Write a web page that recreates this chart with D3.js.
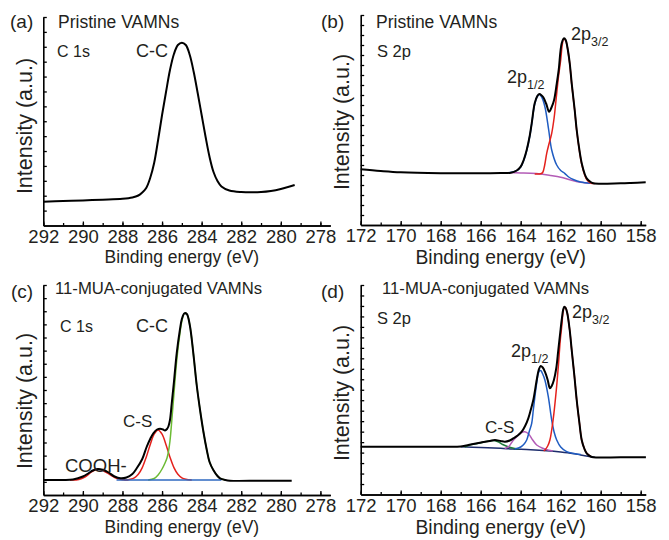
<!DOCTYPE html>
<html lang="en">
<head>
  <meta charset="utf-8">
  <title>XPS spectra of VAMNs</title>
  <script src="https://d3js.org/d3.v7.min.js"></script>
  <style>
    body { margin: 0; background: #fff; }
    text { font-family: "Liberation Sans", Arial, sans-serif; fill: #231f20; }
  </style>
</head>
<body>
<script>
// tick labels (binding energy, eV)
const c1sTicks = [292, 290, 288, 286, 284, 282, 280, 278];
const s2pTicks = [172, 170, 168, 166, 164, 162, 160, 158];

// (a) pristine C 1s  [eV, intensity a.u.]
const aTotal = [[292.0,2.38],[291.0,2.44],[290.0,2.51],[289.0,2.58],[288.0,2.67],[287.5,2.80],[287.2,3.00],[287.0,3.30],[286.8,3.75],[286.6,4.75],[286.4,6.25],[286.2,8.55],[286.0,11.05],[285.8,13.35],[285.6,15.55],[285.4,17.15],[285.2,18.05],[285.0,18.28],[284.8,18.05],[284.6,17.05],[284.4,15.35],[284.2,13.25],[284.0,11.05],[283.8,8.85],[283.6,6.85],[283.4,5.35],[283.2,4.45],[283.0,3.90],[282.6,3.50],[282.0,3.35],[281.0,3.35],[280.5,3.45],[280.0,3.65],[279.3,4.05]];

// (b) pristine S 2p
const bTotal = [[172.0,5.57],[171.0,5.40],[170.0,5.27],[168.0,5.18],[166.0,5.17],[165.0,5.20],[164.5,5.23],[164.2,5.45],[164.0,5.83],[163.85,6.50],[163.7,7.50],[163.55,8.90],[163.45,10.17],[163.3,12.17],[163.17,12.90],[163.07,13.10],[162.95,12.95],[162.87,12.77],[162.72,12.10],[162.58,11.33],[162.45,11.80],[162.33,12.50],[162.2,14.10],[162.1,15.50],[161.95,18.17],[161.83,18.67],[161.75,18.50],[161.67,17.83],[161.55,16.20],[161.45,14.17],[161.3,11.50],[161.2,9.50],[161.05,7.30],[160.95,6.17],[160.8,5.10],[160.7,4.67],[160.5,4.30],[160.37,4.17],[159.0,4.17],[158.5,4.20],[157.75,4.27]];
const bP32 = [[163.3,5.10],[163.0,5.12],[162.9,5.25],[162.8,6.00],[162.7,7.17],[162.6,8.00],[162.45,9.17],[162.33,10.70],[162.2,13.17],[162.1,15.00],[162.0,16.50],[161.93,17.90],[161.85,18.60],[161.75,18.45],[161.67,17.80],[161.55,16.15],[161.45,14.10],[161.3,11.45],[161.2,9.45],[161.05,7.25],[160.95,6.10],[160.8,5.00],[160.7,4.55],[160.5,4.20],[160.3,4.15]];
const bP12 = [[164.6,5.23],[164.2,5.43],[164.0,5.80],[163.85,6.45],[163.7,7.45],[163.55,8.85],[163.45,10.10],[163.3,12.10],[163.17,12.85],[163.07,13.05],[162.95,12.80],[162.79,11.83],[162.6,9.50],[162.45,7.50],[162.2,6.00],[162.0,5.45],[161.8,5.17],[161.6,4.80],[161.37,4.55],[161.0,4.30],[160.5,4.17]];
const bBackground = [[164.6,5.23],[164.0,5.20],[163.5,5.17],[163.0,5.10],[162.5,4.95],[162.0,4.77],[161.5,4.50],[161.0,4.27],[160.5,4.17]];

// (c) 11-MUA C 1s
const cTotal = [[292.0,1.50],[291.0,1.50],[290.5,1.55],[290.0,1.85],[289.7,2.20],[289.5,2.45],[289.25,2.60],[289.0,2.52],[288.7,2.25],[288.4,1.85],[288.1,1.67],[287.8,1.75],[287.5,2.10],[287.28,2.67],[287.0,3.60],[286.78,4.80],[286.6,5.60],[286.44,6.17],[286.25,6.55],[286.1,6.63],[285.95,6.55],[285.85,6.45],[285.75,6.60],[285.68,6.85],[285.6,7.50],[285.51,9.17],[285.4,11.30],[285.26,14.17],[285.1,16.50],[285.0,17.60],[284.87,18.17],[284.75,18.10],[284.6,17.00],[284.42,14.17],[284.25,11.00],[284.08,8.50],[283.9,6.20],[283.74,4.50],[283.6,3.30],[283.41,2.50],[283.2,1.90],[283.07,1.67],[282.8,1.50],[282.57,1.43],[281.0,1.43],[279.45,1.43]];
const cCOOH = [[290.65,1.50],[290.2,1.55],[289.9,1.80],[289.6,2.25],[289.4,2.50],[289.25,2.57],[289.1,2.54],[288.9,2.35],[288.6,2.00],[288.3,1.67],[288.0,1.53],[287.7,1.50]];
const cCS = [[287.9,1.50],[287.6,1.57],[287.4,1.72],[287.2,2.07],[287.0,2.74],[286.8,3.78],[286.6,5.03],[286.4,6.08],[286.2,6.50],[286.0,6.08],[285.8,5.03],[285.6,3.78],[285.4,2.74],[285.2,2.07],[285.0,1.72],[284.8,1.57],[284.5,1.50]];
const cCC = [[286.7,1.50],[286.4,1.65],[286.2,2.00],[286.0,2.60],[285.85,3.20],[285.75,3.70],[285.68,4.30],[285.6,5.40],[285.51,7.40],[285.4,10.10],[285.26,13.44],[285.1,16.14],[285.0,17.38],[284.87,18.17],[284.75,18.10],[284.6,17.00],[284.42,14.17],[284.25,11.00],[284.08,8.50],[283.9,6.20],[283.74,4.50],[283.6,3.30],[283.41,2.50],[283.2,1.90],[283.07,1.67],[282.8,1.50]];
const cBackground = [[288.3,1.50],[283.0,1.50]];

// (d) 11-MUA S 2p
const dTotal = [[172.0,4.78],[170.0,4.78],[168.0,4.78],[167.0,4.80],[166.5,5.00],[166.04,5.18],[165.54,5.35],[165.29,5.45],[165.0,5.35],[164.79,5.28],[164.55,5.40],[164.37,5.62],[164.15,5.90],[163.95,6.28],[163.78,6.85],[163.62,7.62],[163.5,8.45],[163.37,9.45],[163.2,11.45],[163.1,12.45],[163.0,12.85],[162.9,12.70],[162.79,12.28],[162.65,11.45],[162.54,10.62],[162.45,10.85],[162.34,11.45],[162.22,12.65],[162.12,14.45],[162.02,16.25],[161.95,17.45],[161.88,18.45],[161.82,18.78],[161.75,18.65],[161.67,18.12],[161.55,16.45],[161.45,14.45],[161.32,11.95],[161.2,9.45],[161.07,7.25],[160.95,5.45],[160.82,4.60],[160.7,4.12],[160.5,3.80],[160.37,3.72],[159.0,3.72],[157.74,3.72]];
const dP32 = [[162.85,4.35],[162.79,4.45],[162.65,4.85],[162.54,5.45],[162.45,6.45],[162.34,8.12],[162.22,10.45],[162.12,12.78],[162.02,15.45],[161.95,16.78],[161.88,18.25],[161.82,18.75],[161.75,18.65],[161.67,18.12],[161.55,16.45],[161.45,14.45],[161.32,11.95],[161.2,9.45],[161.07,7.25],[160.95,5.45],[160.82,4.60],[160.7,4.12],[160.5,3.80]];
const dP12 = [[164.3,4.55],[164.0,4.75],[163.85,5.00],[163.7,5.45],[163.58,6.25],[163.45,7.12],[163.37,8.45],[163.29,9.78],[163.2,11.15],[163.12,12.12],[163.05,12.40],[162.99,12.38],[162.9,12.05],[162.79,11.45],[162.62,9.78],[162.45,7.45],[162.33,6.25],[162.2,5.45],[162.0,4.75],[161.7,4.28],[161.35,4.10],[161.0,4.00]];
const dCS1 = [[164.8,4.60],[164.6,4.78],[164.4,5.35],[164.2,5.78],[164.0,6.15],[163.8,6.28],[163.6,6.05],[163.4,5.45],[163.2,4.95],[162.9,4.62],[162.6,4.42],[162.4,4.35]];
const dCS2 = [[166.8,4.75],[166.5,4.97],[166.04,5.15],[165.8,5.27],[165.54,5.35],[165.35,5.40],[165.1,5.25],[164.9,5.00],[164.6,4.75],[164.3,4.60],[164.1,4.55]];
const dBackground = [[167.0,4.78],[166.0,4.70],[165.0,4.62],[164.4,4.55],[163.5,4.48],[162.7,4.38],[162.0,4.25],[161.4,4.10],[161.0,3.95],[160.5,3.78],[160.3,3.72]];

const svg = d3.select("body").append("svg")
  .attr("width", 669)
  .attr("height", 540);

function drawPanel(p) {
  const g = svg.append("g");
  const x = d3.scaleLinear().domain(p.xDomain).range([p.left, p.right]);
  const y = d3.scaleLinear().domain([0, p.yMax]).range([p.bottom, p.top]);

  // x axis: minor every 1 eV, labelled every 2 eV, ticks pointing inward
  const minor = d3.range(p.ticks[0], p.ticks[p.ticks.length - 1] - 0.5, -1);
  g.append("g")
    .attr("transform", "translate(0," + p.bottom + ")")
    .call(d3.axisBottom(x).tickValues(minor).tickSize(-2.5).tickSizeOuter(0).tickFormat(""));
  g.append("g")
    .attr("transform", "translate(0," + p.bottom + ")")
    .call(d3.axisBottom(x).tickValues(p.ticks).tickSize(-4).tickSizeOuter(0).tickPadding(p.tickPad).tickFormat(d3.format("d")))
    .call(a => a.selectAll("text").style("font-size", p.tickFont + "px").attr("fill", "#231f20"));

  // y axis, unlabelled
  const yt = d3.range(1, p.n + 1).map(i => i * p.yMax / p.n);
  g.append("g")
    .attr("transform", "translate(" + p.left + ",0)")
    .call(d3.axisLeft(y).tickValues(yt).tickSize(-3.5).tickSizeOuter(0).tickFormat(""));

  g.selectAll(".domain").attr("stroke", "#000").attr("stroke-width", 1.6);
  g.selectAll(".tick line").attr("stroke", "#000").attr("stroke-width", 1.3);

  const line = d3.line()
    .x(d => x(d[0]))
    .y(d => y(d[1]))
    .curve(d3.curveCatmullRom.alpha(0.5));

  p.series.forEach(s => {
    g.append("path")
      .datum(s.data)
      .attr("fill", "none")
      .attr("stroke", s.color)
      .attr("stroke-width", s.width)
      .attr("stroke-linejoin", "round")
      .attr("d", line);
  });

  // axis titles
  g.append("text")
    .attr("x", (p.left + x(p.ticks[p.ticks.length - 1])) / 2)
    .attr("y", p.xTitleY)
    .attr("text-anchor", "middle")
    .style("font-size", p.xTitleFont + "px")
    .text("Binding energy (eV)");
  g.append("text")
    .attr("transform", "translate(" + p.yTitleX + "," + p.yTitleY + ") rotate(-90)")
    .attr("text-anchor", "middle")
    .style("font-size", p.yTitleFont + "px")
    .text("Intensity (a.u.)");

  // annotations
  p.labels.forEach(l => {
    const t = g.append("text").attr("x", l.x).attr("y", l.y).style("font-size", l.size + "px").text(l.text);
    if (l.sub) t.append("tspan").attr("dy", 6).style("font-size", "12.5px").text(l.sub);
  });
}

const BLACK = "#000", RED = "#e4211c", BLUE = "#1f5cc2", PURPLE = "#b35cb6";

drawPanel({
  xDomain: [292, 277.5], left: 43.3, right: 330.3, bottom: 225.5, top: 17, yMax: 20.85, n: 14,
  ticks: c1sTicks, tickFont: 18.5, tickPad: 4, xTitleY: 263, xTitleFont: 17.5,
  yTitleX: 32, yTitleY: 126, yTitleFont: 21.5,
  series: [{ data: aTotal, color: BLACK, width: 2 }],
  labels: [
    { x: 10, y: 28, text: "(a)", size: 19 },
    { x: 58, y: 28, text: "Pristine VAMNs", size: 17.5 },
    { x: 57, y: 57, text: "C 1s", size: 16 },
    { x: 136, y: 57, text: "C-C", size: 18 }
  ]
});

drawPanel({
  xDomain: [172, 157.75], left: 360.7, right: 645.7, bottom: 225, top: 15, yMax: 21, n: 21,
  ticks: s2pTicks, tickFont: 18.5, tickPad: 4, xTitleY: 264, xTitleFont: 19.3,
  yTitleX: 349, yTitleY: 122, yTitleFont: 21.5,
  series: [
    { data: bBackground, color: PURPLE, width: 1.5 },
    { data: bP12, color: BLUE, width: 1.5 },
    { data: bP32, color: RED, width: 1.5 },
    { data: bTotal, color: BLACK, width: 2 }
  ],
  labels: [
    { x: 321, y: 28, text: "(b)", size: 19 },
    { x: 376, y: 28, text: "Pristine VAMNs", size: 17.5 },
    { x: 377, y: 57, text: "S 2p", size: 16.5 },
    { x: 507, y: 83, text: "2p", size: 18, sub: "1/2" },
    { x: 571, y: 40, text: "2p", size: 18, sub: "3/2" }
  ]
});

drawPanel({
  xDomain: [292, 277.5], left: 43.3, right: 330.3, bottom: 495, top: 285, yMax: 21, n: 16,
  ticks: c1sTicks, tickFont: 18.5, tickPad: 4, xTitleY: 533, xTitleFont: 17.5,
  yTitleX: 32, yTitleY: 401, yTitleFont: 21.5,
  series: [
    { data: cCOOH, color: RED, width: 1.5 },
    { data: cCS, color: RED, width: 1.5 },
    { data: cCC, color: "#6cbb34", width: 1.5 },
    { data: cBackground, color: "#2e68c0", width: 1.5 },
    { data: cTotal, color: BLACK, width: 2 }
  ],
  labels: [
    { x: 11, y: 298, text: "(c)", size: 19 },
    { x: 55, y: 293.5, text: "11-MUA-conjugated VAMNs", size: 16.7 },
    { x: 60, y: 331.5, text: "C 1s", size: 16 },
    { x: 136, y: 331.5, text: "C-C", size: 18 },
    { x: 123, y: 426.5, text: "C-S", size: 17 },
    { x: 65, y: 471.5, text: "COOH-", size: 18.5 }
  ]
});

drawPanel({
  xDomain: [172, 157.75], left: 360.7, right: 645.7, bottom: 494.5, top: 285, yMax: 20.95, n: 20,
  ticks: s2pTicks, tickFont: 18.5, tickPad: 4, xTitleY: 534, xTitleFont: 19.3,
  yTitleX: 349, yTitleY: 393, yTitleFont: 21.5,
  series: [
    { data: dBackground, color: "#1d2d6c", width: 1.5 },
    { data: dCS2, color: "#1f7a3c", width: 1.5 },
    { data: dCS1, color: PURPLE, width: 1.5 },
    { data: dP12, color: BLUE, width: 1.5 },
    { data: dP32, color: RED, width: 1.5 },
    { data: dTotal, color: BLACK, width: 2 }
  ],
  labels: [
    { x: 321, y: 298, text: "(d)", size: 19 },
    { x: 382, y: 293.5, text: "11-MUA-conjugated VAMNs", size: 16.7 },
    { x: 377, y: 323.5, text: "S 2p", size: 16.5 },
    { x: 485, y: 433, text: "C-S", size: 17 },
    { x: 511, y: 356.5, text: "2p", size: 18, sub: "1/2" },
    { x: 572, y: 317.5, text: "2p", size: 18, sub: "3/2" }
  ]
});
</script>
</body>
</html>
